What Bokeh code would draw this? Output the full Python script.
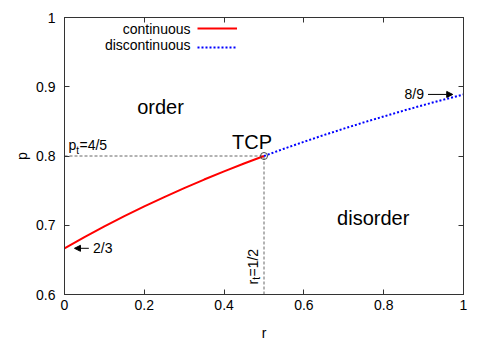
import math
from bokeh.plotting import figure
from bokeh.models import (Range1d, LinearAxis, FixedTicker, Arrow, NormalHead,
                          Legend, LegendItem, Label)
from bokeh.embed import file_html
from bokeh.resources import INLINE

# ---- data ----
cont_r = [0.0, 0.05, 0.10, 0.15, 0.20, 0.25, 0.30, 0.35, 0.40, 0.45, 0.50]
cont_p = [0.6667, 0.6829, 0.6984, 0.7132, 0.7273, 0.7407, 0.7536, 0.7660, 0.7778, 0.7891, 0.8000]
disc_r = [0.50, 0.55, 0.60, 0.65, 0.70, 0.75, 0.80, 0.85, 0.90, 0.95, 1.00]
disc_p = [0.8000, 0.8105, 0.8205, 0.8302, 0.8395, 0.8485, 0.8571, 0.8655, 0.8736, 0.8814, 0.8889]
tcp_r = [0.5]
tcp_p = [0.8]
x_ticks = [0.0, 0.2, 0.4, 0.6, 0.8, 1.0]
x_tick_labels = ["0", "0.2", "0.4", "0.6", "0.8", "1"]
y_ticks = [0.6, 0.7, 0.8, 0.9, 1.0]
y_tick_labels = ["0.6", "0.7", "0.8", "0.9", "1"]
legend_labels = ["continuous", "discontinuous"]

FONT = "Liberation Sans"
AX = "#333333"

p = figure(width=491, height=343, output_backend="svg", toolbar_location=None,
           x_range=Range1d(0, 1), y_range=Range1d(0.6, 1),
           min_border_left=64, min_border_right=28, min_border_top=17, min_border_bottom=48,
           x_axis_label="r", y_axis_label="p")
p.grid.visible = False
p.outline_line_color = AX
p.background_fill_color = "white"
p.border_fill_color = "white"

def style_axis(ax, ticks, labels, show_labels, standoff):
    ax.ticker = FixedTicker(ticks=ticks)
    if show_labels:
        ax.major_label_overrides = {t: l for t, l in zip(ticks, labels)}
    else:
        ax.major_label_overrides = {t: "" for t in ticks}
    ax.major_tick_in = 5
    ax.major_tick_out = 0
    ax.minor_tick_line_color = None
    ax.axis_line_color = AX
    ax.major_tick_line_color = AX
    ax.major_label_text_font = FONT
    ax.major_label_text_font_size = "14px"
    ax.major_label_text_color = "black"
    ax.major_label_standoff = standoff
    ax.axis_label_text_font = FONT
    ax.axis_label_text_font_size = "14px"
    ax.axis_label_text_font_style = "normal"
    ax.axis_label_text_color = "black"

style_axis(p.xaxis[0], x_ticks, x_tick_labels, True, 5)
style_axis(p.yaxis[0], y_ticks, y_tick_labels, True, 9)
p.xaxis[0].axis_label_standoff = 12
p.yaxis[0].axis_label_standoff = 3
top = LinearAxis()
right = LinearAxis()
style_axis(top, x_ticks, x_tick_labels, False, 0)
style_axis(right, y_ticks, y_tick_labels, False, 0)
top.major_label_text_font_size = "1px"
right.major_label_text_font_size = "1px"
p.add_layout(top, "above")
p.add_layout(right, "right")

# guide lines to the tricritical point
p.line([0, tcp_r[0]], [tcp_p[0], tcp_p[0]], line_color="#666666", line_dash="3 2", line_width=1)
p.line([tcp_r[0], tcp_r[0]], [0.6, tcp_p[0]], line_color="#666666", line_dash="3 2", line_width=1)

r_cont = p.line(cont_r, cont_p, line_color="#ff0000", line_width=2)
r_disc = p.line(disc_r, disc_p, line_color="#0000ff", line_width=2, line_dash="2 2")
p.scatter(tcp_r, tcp_p, marker="circle", size=7, fill_color=None, line_color="#444444", line_width=1)

# legend: samples from a Legend, texts placed to their left
legend = Legend(items=[LegendItem(label=" ", renderers=[r_cont]),
                       LegendItem(label=" ", renderers=[r_disc])],
                location=(133, 240), glyph_width=40, glyph_height=14, label_height=14,
                label_standoff=0, padding=0, margin=0, spacing=5,
                border_line_color=None, background_fill_alpha=0,
                label_text_font=FONT, label_text_font_size="8px")
p.add_layout(legend)

def lab(text, x, y, size="14px", xo=0, yo=0, align="left", base="middle", angle=0):
    p.add_layout(Label(x=x, y=y, text=text, x_offset=xo, y_offset=yo, text_font=FONT,
                       text_font_size=size, text_align=align, text_baseline=base,
                       angle=angle, text_color="black"))

lab(legend_labels[0], 0.3158, 0.9827, align="right")
lab(legend_labels[1], 0.3158, 0.9597, align="right")

# region labels
lab("order", 0.2406, 0.8705, size="20px", align="center")
lab("disorder", 0.7737, 0.7108, size="20px", align="center")
lab("TCP", tcp_r[0], tcp_p[0], size="20px", align="center", xo=-12, yo=14)

# p_t = 4/5
lab("p", 0.0, tcp_p[0], xo=4, yo=11)
lab("t", 0.0, tcp_p[0], size="10px", xo=11.8, yo=6)
lab("=4/5", 0.0, tcp_p[0], xo=15, yo=11)

# r_t = 1/2 (rotated)
lab("r", tcp_r[0], 0.6, xo=-11.5, yo=10, angle=math.pi / 2)
lab("t", tcp_r[0], 0.6, size="10px", xo=-7.5, yo=14.7, angle=math.pi / 2)
lab("=1/2", tcp_r[0], 0.6, xo=-11.5, yo=18, angle=math.pi / 2)

# arrows with values
p.add_layout(Arrow(end=NormalHead(size=6, fill_color="black", line_color="black", line_width=1),
                   x_start=cont_r[0] + 0.061, y_start=cont_p[0],
                   x_end=cont_r[0] + 0.025, y_end=cont_p[0], line_width=1, line_color="black"))
lab("2/3", cont_r[0], cont_p[0], xo=28.5, yo=0)
p.add_layout(Arrow(end=NormalHead(size=6, fill_color="black", line_color="black", line_width=1),
                   x_start=disc_r[-1] - 0.089, y_start=disc_p[-1],
                   x_end=disc_r[-1] - 0.027, y_end=disc_p[-1], line_width=1, line_color="black"))
lab("8/9", disc_r[-1], disc_p[-1], xo=-39.5, yo=0, align="right")

open("out.html", "w").write(file_html(p, INLINE))
